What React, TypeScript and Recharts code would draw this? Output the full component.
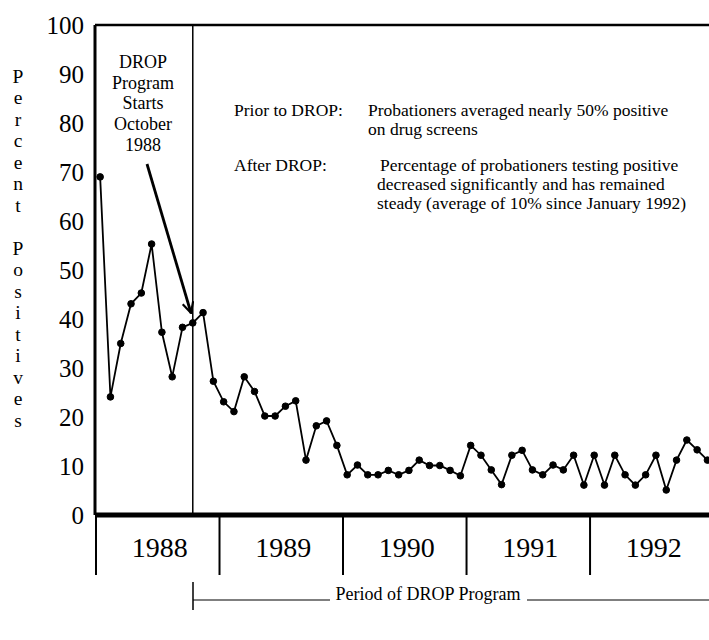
import React from 'react';
import { LineChart, Line, XAxis, YAxis, ReferenceLine } from 'recharts';

const serif = "'Liberation Serif', 'DejaVu Serif', serif";

// percent of probationers testing positive, one value per month (Jan..Dec)
const years = ['1988', '1989', '1990', '1991', '1992'];
const pct1988 = [69.0, 24.1, 35.0, 43.1, 45.3, 55.3, 37.3, 28.2, 38.3, 39.2, 41.3, 27.3];
const pct1989 = [23.1, 21.1, 28.2, 25.2, 20.2, 20.2, 22.2, 23.3, 11.2, 18.2, 19.2, 14.2];
const pct1990 = [8.2, 10.2, 8.2, 8.2, 9.1, 8.2, 9.1, 11.2, 10.1, 10.1, 9.1, 8.0];
const pct1991 = [14.2, 12.2, 9.2, 6.2, 12.2, 13.2, 9.2, 8.2, 10.2, 9.2, 12.2, 6.1];
const pct1992 = [12.2, 6.1, 12.2, 8.2, 6.1, 8.2, 12.2, 5.1, 11.2, 15.3, 13.3, 11.2];

const yTicks = [0, 10, 20, 30, 40, 50, 60, 70, 80, 90, 100];
const yearEdges = [-0.5, 11.5, 23.5, 35.5, 47.5];
const yearMids = [5.5, 17.5, 29.5, 41.5, 53.5];
const dropStart = 9; // October 1988
const yTitle = 'Percent Positives';

const data = [...pct1988, ...pct1989, ...pct1990, ...pct1991, ...pct1992].map((v, i) => ({ month: i, pct: v }));

const YearTick = ({ x, y, payload }: any) => {
  const k = yearMids.indexOf(payload.value);
  if (k >= 0) {
    return (
      <text x={x + 3} y={y + 32} textAnchor="middle" dominantBaseline="central" fontSize={28} fontFamily={serif} fill="#000">
        {years[k]}
      </text>
    );
  }
  return <line x1={x + 1} y1={y} x2={x + 1} y2={y + 60} stroke="#000" strokeWidth={2} />;
};

const StackedTitle = () => {
  const letters = yTitle.split('');
  return (
    <g>
      {letters.map((c, i) =>
        c === ' ' ? null : (
          <text key={i} x={18} y={76 + i * 21.5} textAnchor="middle" dominantBaseline="central" fontSize={19.5} fontFamily={serif} fill="#000">
            {c}
          </text>
        )
      )}
    </g>
  );
};

const txt = { fontSize: 17.5, fontFamily: serif, fill: '#000', dominantBaseline: 'central' as const };

export default function App() {
  return (
    <div style={{ position: 'absolute', left: 0, top: 0, width: 709, height: 640, overflow: 'hidden', background: '#fff' }}>
      <LineChart width={740} height={640} data={data} margin={{ top: 25, right: 12, left: 0, bottom: 0 }}>
        <defs>
          <marker id="arrowHead" viewBox="0 0 12 12" refX="11" refY="6" markerWidth="13" markerHeight="13" markerUnits="userSpaceOnUse" orient="auto">
            <path d="M1,1 L11,6 L1,11" fill="none" stroke="#000" strokeWidth={2} />
          </marker>
        </defs>
        <XAxis
          dataKey="month"
          type="number"
          domain={[-0.5, 61]}
          ticks={[...yearEdges, ...yearMids].sort((a, b) => a - b)}
          interval={0}
          tick={<YearTick />}
          tickLine={false}
          tickSize={0}
          tickMargin={0}
          height={125}
          axisLine={{ stroke: '#000', strokeWidth: 5 }}
        />
        <YAxis
          type="number"
          domain={[0, 100]}
          ticks={yTicks}
          interval={0}
          width={95}
          tickLine={false}
          tickSize={0}
          tickMargin={11}
          axisLine={{ stroke: '#000', strokeWidth: 3 }}
          tick={{ fontSize: 25, fontFamily: serif, fill: '#000' }}
        />
        <ReferenceLine y={100} stroke="#000" strokeWidth={2.5} />
        <ReferenceLine x={dropStart} stroke="#000" strokeWidth={1.5} />
        <Line
          type="linear"
          dataKey="pct"
          stroke="#000"
          strokeWidth={1.8}
          dot={{ r: 3.3, fill: '#000', stroke: '#000', strokeWidth: 1 }}
          isAnimationActive={false}
        />

        <StackedTitle />

        <g>
          {['DROP', 'Program', 'Starts', 'October', '1988'].map((s, i) => (
            <text key={s} x={143} y={62 + i * 20.7} textAnchor="middle" {...txt} fontSize={18}>
              {s}
            </text>
          ))}
          <line x1={147} y1={164} x2={191} y2={313} stroke="#000" strokeWidth={2.8} markerEnd="url(#arrowHead)" />
        </g>

        <g>
          <text x={234} y={110} {...txt}>Prior to DROP:</text>
          <text x={368} y={110} {...txt}>Probationers averaged nearly 50% positive</text>
          <text x={368} y={129} {...txt}>on drug screens</text>
          <text x={234} y={165} {...txt}>After DROP:</text>
          <text x={380} y={165} {...txt}>Percentage of probationers testing positive</text>
          <text x={377} y={184} {...txt}>decreased significantly and has remained</text>
          <text x={377} y={203} {...txt}>steady (average of 10% since January 1992)</text>
        </g>

        <g>
          <line x1={193} y1={582} x2={193} y2={610} stroke="#000" strokeWidth={1.5} />
          <line x1={193} y1={600} x2={330} y2={600} stroke="#000" strokeWidth={1.2} />
          <line x1={527} y1={600} x2={709} y2={600} stroke="#000" strokeWidth={1.2} />
          <text x={428} y={594} textAnchor="middle" {...txt} fontSize={18}>Period of DROP Program</text>
        </g>
      </LineChart>
    </div>
  );
}
